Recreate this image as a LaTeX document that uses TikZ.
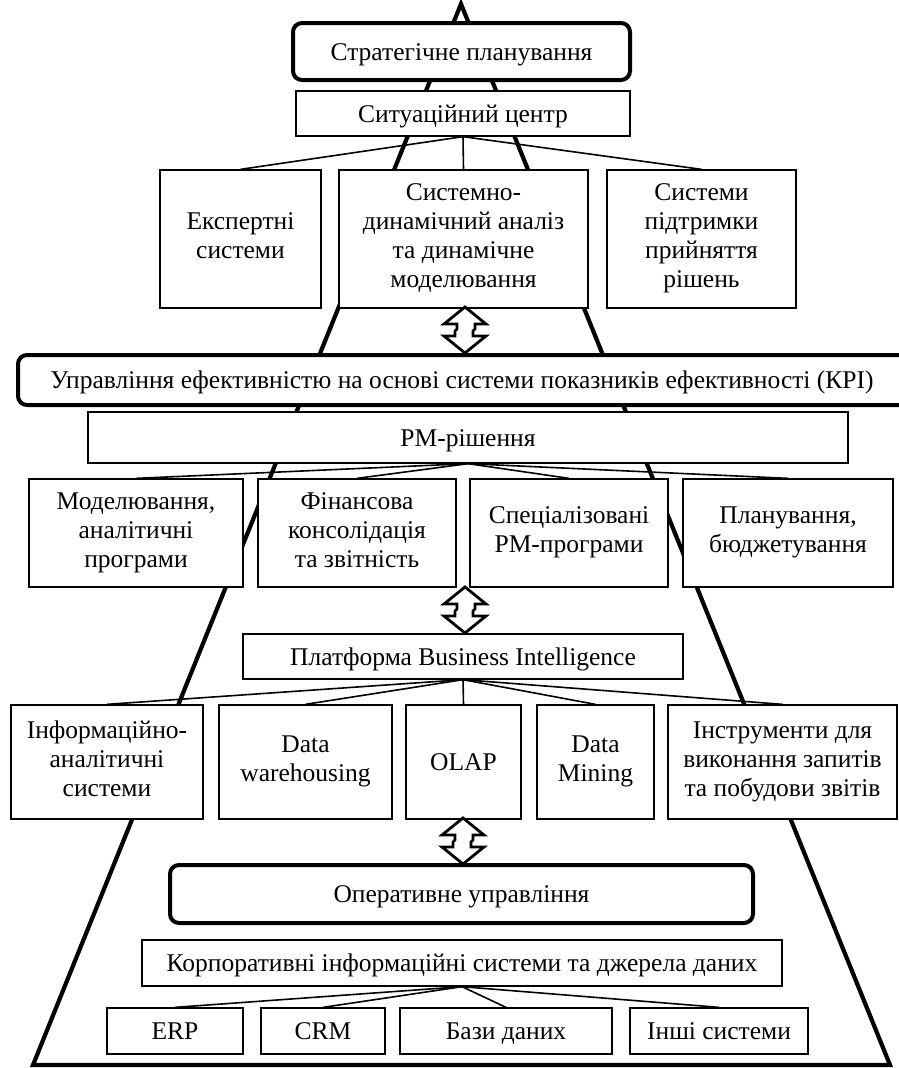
\documentclass[tikz,border=0pt]{standalone}
\usepackage{fontspec}
\setmainfont{Liberation Serif}
\newcommand{\topstrut}{\rule{0pt}{23pt}}
\newcommand{\botstrut}{\rule[-6pt]{0pt}{6pt}}
\begin{document}
\begin{tikzpicture}[x=1pt,y=-1pt,
  every node/.style={font=\fontsize{25.5}{29}\selectfont},
  box/.style={draw, line width=1.3pt, fill=white, inner sep=0pt, align=center,
    execute at begin node=\topstrut, execute at end node=\botstrut},
  rbox/.style={draw, line width=4pt, fill=white, rounded corners=9pt, inner sep=0pt, align=center,
    execute at begin node=\topstrut, execute at end node=\botstrut},
  conn/.style={line width=1.6pt},
  pyr/.style={line width=4.2pt, line join=miter},
  dblarrow/.pic={\draw[line width=2.8pt, fill=white, line join=miter]
    (0,-23) -- (21,-6) -- (10,-6) -- (10,-1) -- (8,1) -- (8,6) -- (21,6) -- (0,23)
    -- (-21,6) -- (-10,6) -- (-10,1) -- (-8,-1) -- (-8,-6) -- (-21,-6) -- cycle;}]
\useasboundingbox (0,0) rectangle (899,1068);
% pyramid
\coordinate (apex) at (461,4);
\coordinate (bl) at (33,1065);
\coordinate (br) at (890,1065);
\draw[pyr] (bl) -- (apex) -- (br) -- cycle;
% boxes
\node[rbox, minimum width=337pt, minimum height=57pt] (strat) at (461.5,51.5) {Стратегічне планування};
\node[box, minimum width=334pt, minimum height=45pt] (sit) at (463,113.5) {Ситуаційний центр};
\node[box, minimum width=161pt, minimum height=138pt] (exp) at (240.5,239) {Експертні\\системи};
\node[box, minimum width=249pt, minimum height=138pt] (sda) at (463.5,239) {Системно-\\динамічний аналіз\\та динамічне\\моделювання};
\node[box, minimum width=189pt, minimum height=138pt] (sppr) at (701.5,239) {Системи\\підтримки\\прийняття\\рішень};
\node[rbox, minimum width=1000pt, minimum height=50pt] (kpi) at (518,380) {\hspace*{-112pt}Управління ефективністю на основі системи показників ефективності (КРІ)};
\node[box, minimum width=760pt, minimum height=51pt] (pm) at (468,437.5) {РМ-рішення};
\node[box, minimum width=214pt, minimum height=108pt] (mod) at (136,533) {Моделювання,\\аналітичні\\програми};
\node[box, minimum width=198pt, minimum height=108pt] (fin) at (357,533) {Фінансова\\консолідація\\та звітність};
\node[box, minimum width=198pt, minimum height=108pt] (spec) at (569,533) {Спеціалізовані\\РМ-програми};
\node[box, minimum width=210pt, minimum height=108pt] (plan) at (788,533) {Планування,\\бюджетування};
\node[box, minimum width=440pt, minimum height=45pt] (bi) at (463,656.5) {Платформа Business Intelligence};
\node[box, minimum width=192pt, minimum height=114pt] (inf) at (107,762) {Інформаційно-\\аналітичні\\системи};
\node[box, minimum width=173pt, minimum height=114pt] (dw) at (305.5,762) {Data\\warehousing};
\node[box, minimum width=115pt, minimum height=114pt] (olap) at (463.5,762) {OLAP};
\node[box, minimum width=117pt, minimum height=114pt] (dm) at (595.5,762) {Data\\Mining};
\node[box, minimum width=229pt, minimum height=114pt] (inst) at (782.5,762) {Інструменти для\\виконання запитів\\та побудови звітів};
\node[rbox, minimum width=583pt, minimum height=58pt] (op) at (461.5,894) {Оперативне управління};
\node[box, minimum width=640pt, minimum height=46pt] (corp) at (462,963) {Корпоративні інформаційні системи та джерела даних};
\node[box, minimum width=136pt, minimum height=46pt] (erp) at (175,1031) {ERP};
\node[box, minimum width=124pt, minimum height=46pt] (crm) at (323,1031) {CRM};
\node[box, minimum width=212pt, minimum height=46pt] (db) at (506,1031) {Бази даних};
\node[box, minimum width=178pt, minimum height=46pt] (oth) at (719,1031) {Інші системи};
% connectors
\foreach \t in {exp,sda,sppr} \draw[conn] (sit.south) -- (\t.north);
\foreach \t in {mod,fin,spec,plan} \draw[conn] (pm.south) -- (\t.north);
\foreach \t in {inf,dw,olap,dm,inst} \draw[conn] (bi.south) -- (\t.north);
\foreach \t in {erp,crm,db,oth} \draw[conn] (corp.south) -- (\t.north);
% double arrows
\pic at (465,330) {dblarrow};
\pic at (465,610) {dblarrow};
\pic at (463,841) {dblarrow};
\end{tikzpicture}
\end{document}
